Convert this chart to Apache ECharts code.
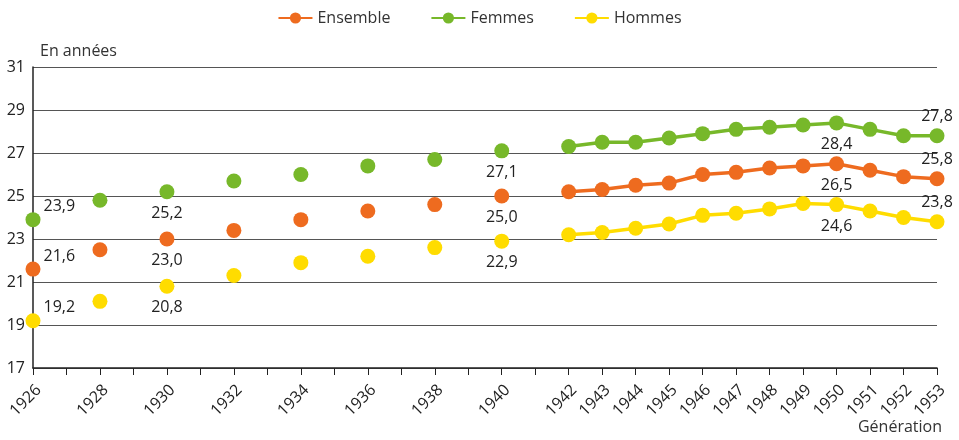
<!DOCTYPE html>
<html>
<head>
    <meta charset="utf-8">
    <title>Âge moyen par génération</title>
    <script src="https://cdn.jsdelivr.net/npm/echarts@6/dist/echarts.min.js"></script>
</head>
<body style="margin:0;">
    <div id="main" style="width:959px;height:440px;"></div>
</body>
</html>
<script>
var chart = echarts.init(document.getElementById('main'));

// générations
var anneesAvant = [1926, 1928, 1930, 1932, 1934, 1936, 1938, 1940];
var anneesApres = [1942, 1943, 1944, 1945, 1946, 1947, 1948, 1949, 1950, 1951, 1952, 1953];

// valeurs (en années)
var ensembleAvant = [21.6, 22.5, 23.0, 23.4, 23.9, 24.3, 24.6, 25.0];
var ensembleApres = [25.2, 25.3, 25.5, 25.6, 26.0, 26.1, 26.3, 26.4, 26.5, 26.2, 25.9, 25.8];
var femmesAvant = [23.9, 24.8, 25.2, 25.7, 26.0, 26.4, 26.7, 27.1];
var femmesApres = [27.3, 27.5, 27.5, 27.7, 27.9, 28.1, 28.2, 28.3, 28.4, 28.1, 27.8, 27.8];
var hommesAvant = [19.2, 20.1, 20.8, 21.3, 21.9, 22.2, 22.6, 22.9];
var hommesApres = [23.2, 23.3, 23.5, 23.7, 24.1, 24.2, 24.4, 24.65, 24.6, 24.3, 24.0, 23.8];

// années dont la valeur est affichée
var anneesEtiquetees = [1926, 1930, 1940, 1950, 1953];

var couleurs = { Ensemble: '#EE6B1F', Femmes: '#77B82A', Hommes: '#FFDC00' };

function virgule(v) {
    return v.toFixed(1).replace('.', ',');
}

function points(annees, valeurs) {
    return annees.map(function (a, i) {
        var p = { value: [a, valeurs[i]] };
        if (anneesEtiquetees.indexOf(a) >= 0) {
            var lab = { show: true, position: 'bottom', distance: 6 };
            if (a === 1926) {
                lab = { show: true, position: 'right', distance: 3, offset: [0, -13] };
            } else if (a === 1953) {
                lab = { show: true, position: 'top', distance: 4 };
            }
            p.label = lab;
        }
        return p;
    });
}

var labelStyle = {
    color: '#222',
    fontSize: 16,
    fontFamily: 'Open Sans',
    formatter: function (p) { return virgule(p.value[1]); }
};

function serie(nom, avant, apres) {
    return [{
        name: nom,
        type: 'line',
        data: points(anneesApres, apres),
        symbol: 'circle',
        symbolSize: 15,
        lineStyle: { width: 3.5, color: couleurs[nom] },
        itemStyle: { color: couleurs[nom], opacity: 1 },
        label: labelStyle,
        animation: false
    }, {
        name: nom,
        type: 'scatter',
        data: points(anneesAvant, avant),
        symbol: 'circle',
        symbolSize: 15,
        itemStyle: { color: couleurs[nom], opacity: 1 },
        label: labelStyle,
        animation: false
    }];
}

var option = {
    textStyle: { fontFamily: 'Open Sans' },
    legend: {
        data: ['Ensemble', 'Femmes', 'Hommes'],
        top: 5,
        left: 'center',
        itemWidth: 34,
        itemHeight: 14,
        itemGap: 40,
        textStyle: { fontSize: 16, color: '#333' }
    },
    grid: { left: 33, right: 22, top: 67, bottom: 72, containLabel: false, outerBoundsMode: 'none' },
    xAxis: {
        type: 'value',
        min: 1926,
        max: 1953,
        interval: 1,
        name: 'Génération',
        nameLocation: 'end',
        nameGap: 5,
        nameMoveOverlap: false,
        nameTextStyle: { fontSize: 16, color: '#333', align: 'right', verticalAlign: 'top', padding: [51, 0, 0, 0] },
        axisLine: { lineStyle: { color: '#222', width: 1.5 } },
        axisTick: { show: true, length: 7, lineStyle: { color: '#222' } },
        splitLine: { show: false },
        axisLabel: {
            rotate: 45,
            fontSize: 16,
            color: '#222',
            margin: 14,
            verticalAlign: 'top',
            formatter: function (v) {
                if (v >= 1942 || v % 2 === 0) return String(v);
                return '';
            }
        }
    },
    yAxis: {
        type: 'value',
        min: 17,
        max: 31,
        interval: 2,
        name: 'En années',
        nameLocation: 'end',
        nameGap: 8,
        nameTextStyle: { fontSize: 16, color: '#333', align: 'left', padding: [0, 0, 0, 7] },
        axisLine: { show: true, lineStyle: { color: '#222', width: 1.5 } },
        axisTick: { show: false },
        splitLine: { lineStyle: { color: '#555', width: 1 } },
        axisLabel: { fontSize: 16, color: '#222', margin: 8 }
    },
    series: [].concat(
        serie('Ensemble', ensembleAvant, ensembleApres),
        serie('Femmes', femmesAvant, femmesApres),
        serie('Hommes', hommesAvant, hommesApres)
    )
};

chart.setOption(option);
</script>
